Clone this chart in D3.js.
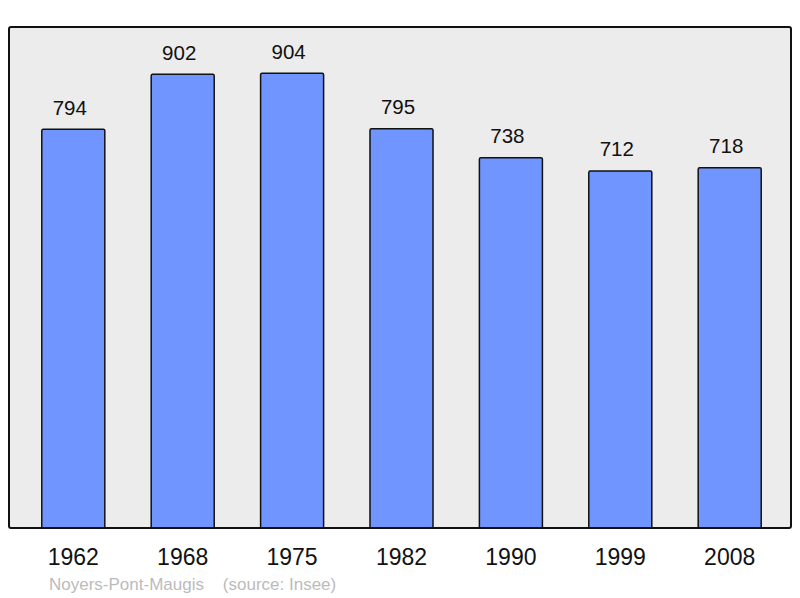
<!DOCTYPE html>
<html>
<head>
<meta charset="utf-8">
<script src="https://cdn.jsdelivr.net/npm/d3@7"></script>
<style>
  body { margin: 0; background: #fff; }
  svg { display: block; font-family: "Liberation Sans", Arial, sans-serif; }
</style>
</head>
<body>
<div id="chart"></div>
<script>
// population data
const years = ['1962', '1968', '1975', '1982', '1990', '1999', '2008'];
const population = [794, 902, 904, 795, 738, 712, 718];
const caption = 'Noyers-Pont-Maugis    (source: Insee)';

const width = 800, height = 598;
const frame = { left: 9, top: 27, right: 791, bottom: 528 };

const svg = d3.select('#chart')
    .append('svg')
    .attr('width', width)
    .attr('height', height);

svg.append('defs').append('clipPath')
    .attr('id', 'plot-clip')
    .append('rect')
    .attr('x', frame.left)
    .attr('y', frame.top)
    .attr('width', frame.right - frame.left)
    .attr('height', frame.bottom - frame.top);

const x = d3.scaleBand()
    .domain(years)
    .range([18.6, 784.4])
    .paddingInner(0.424)
    .paddingOuter(0.212);

// zero sits a little below the frame, bars get clipped at the bottom
const y = d3.scaleLinear()
    .domain([0, 1000])
    .range([533.3, 24.3]);

// plot background
svg.append('rect')
    .attr('x', frame.left)
    .attr('y', frame.top)
    .attr('width', frame.right - frame.left)
    .attr('height', frame.bottom - frame.top)
    .attr('rx', 2)
    .attr('fill', '#ececec');

// bars
svg.append('g')
    .attr('clip-path', 'url(#plot-clip)')
    .selectAll('rect')
    .data(population)
    .enter()
    .append('rect')
    .attr('x', (d, i) => x(years[i]))
    .attr('y', d => y(d))
    .attr('width', x.bandwidth())
    .attr('height', d => y(0) - y(d))
    .attr('rx', 1.5)
    .attr('fill', '#7095ff')
    .attr('stroke', '#111')
    .attr('stroke-width', 1.5);

// frame on top
svg.append('rect')
    .attr('x', frame.left)
    .attr('y', frame.top)
    .attr('width', frame.right - frame.left)
    .attr('height', frame.bottom - frame.top)
    .attr('rx', 2)
    .attr('fill', 'none')
    .attr('stroke', '#111')
    .attr('stroke-width', 2);

// value labels (sit a touch left of the bar centre in the original)
svg.selectAll('.value-label')
    .data(population)
    .enter()
    .append('text')
    .attr('class', 'value-label')
    .text(d => d)
    .attr('x', (d, i) => x(years[i]) + x.bandwidth() / 2 - 3.5)
    .attr('y', d => y(d) - 14.5)
    .attr('text-anchor', 'middle')
    .style('fill', '#111')
    .style('font-size', '20.5px');

// year labels
svg.selectAll('.year-label')
    .data(years)
    .enter()
    .append('text')
    .attr('class', 'year-label')
    .text(d => d)
    .attr('x', d => x(d) + x.bandwidth() / 2)
    .attr('y', 565)
    .attr('text-anchor', 'middle')
    .style('fill', '#111')
    .style('font-size', '23px');

svg.append('text')
    .text(caption)
    .attr('x', 49)
    .attr('y', 590)
    .attr('xml:space', 'preserve')
    .style('white-space', 'pre')
    .style('fill', '#bbbbbb')
    .style('font-size', '17px');
</script>
</body>
</html>
